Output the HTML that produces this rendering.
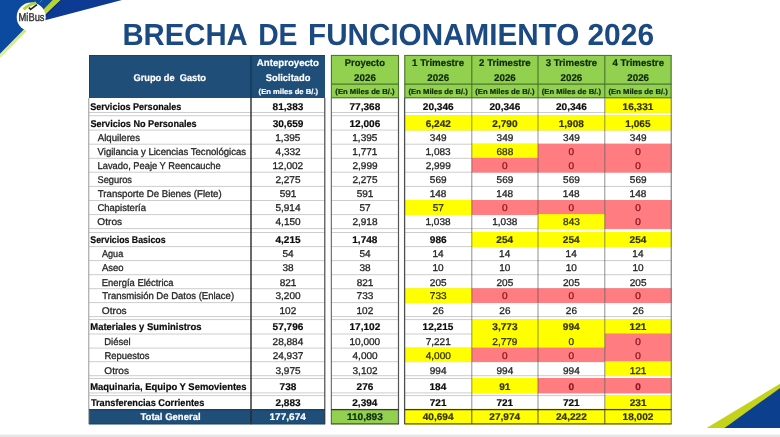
<!DOCTYPE html>
<html><head><meta charset="utf-8"><title>Brecha de Funcionamiento 2026</title>
<style>
html,body{margin:0;padding:0;}
body{width:780px;height:437px;position:relative;overflow:hidden;background:#fff;filter:blur(.45px);font-family:"Liberation Sans",sans-serif;text-rendering:geometricPrecision;}
div{position:absolute;box-sizing:border-box;}
.t{white-space:nowrap;color:#262626;-webkit-text-stroke:0.3px currentColor;font-size:9.8px;line-height:1;transform-origin:0 50%;}
.b{font-weight:bold;color:#0c0c0c;-webkit-text-stroke:0.2px currentColor;}
.ty{color:#33330a;}
.tr{color:#8a1820;}
.w{color:#fff;}
.tt{color:#1b4a82;-webkit-text-stroke:0;}
.g{color:#10290a;}
svg{position:absolute;left:0;top:0;}
</style></head><body>

<svg width="780" height="437" viewBox="0 0 780 437">
<defs><linearGradient id="gs" x1="57" y1="0" x2="0" y2="57" gradientUnits="userSpaceOnUse"><stop offset="0" stop-color="#b7d42f"/><stop offset=".3" stop-color="#bdd83a"/><stop offset=".52" stop-color="#d2e576"/><stop offset="1" stop-color="#e2efa0"/></linearGradient></defs>
<polygon points="60,0 122,0 37.5,22.2" fill="#0d3b94"/>
<polygon points="59.8,0 62,0 40,22.5 38,22.5" fill="#0a2a5e" opacity=".55"/>
<polygon points="0,0 53.5,0 0,54.5" fill="#0b4a9f"/>
<polygon points="52.8,0 60.6,0 26.5,31 1.5,57 0,57 0,53.8" fill="url(#gs)"/>
<circle cx="31.2" cy="16.9" r="14.5" fill="#fff"/>
<path d="M23.6,9.3 Q28.5,4.6 36.2,2.9" stroke="#b4d334" stroke-width="3" fill="none"/>
<path d="M29,7.6 L30.6,9.4 L37,4.6" stroke="#1d2833" stroke-width="1.7" fill="none"/>
<path d="M39.8,2.6 Q40.6,0.8 42.4,0" stroke="#3fa28c" stroke-width="1" fill="none" opacity=".8"/>
<polygon points="706.5,428 725,428 780,388.5 780,383.8" fill="#c4d21a"/>
<polygon points="724.5,428 780,428 780,388" fill="#0d3f8f"/>
<rect x="0" y="434.6" width="780" height="2.4" fill="#e6e6e6"/>
</svg>
<div class="t" id="logo" style="color:#333;-webkit-text-stroke:.4px #333;left:18px;top:13px;transform:translateX(0.55px) scaleX(0.8268);font-size:11.3px;">MiBus</div>
<div id="title" style="left:0;top:0;width:780px;height:0">
<div class="t b tt" style="left:122px;top:20px;transform:translateX(0.39px) scaleX(0.9581);font-size:30.6px;">BRECHA</div>
<div class="t b tt" style="left:258px;top:20px;transform:translateX(0.16px) scaleX(0.9257);font-size:30.6px;">DE</div>
<div class="t b tt" style="left:308px;top:20px;transform:translateX(0.07px) scaleX(0.9688);font-size:30.6px;">FUNCIONAMIENTO</div>
<div class="t b tt" style="left:587px;top:20px;transform:translateX(0.45px) scaleX(0.9781);font-size:30.6px;">2026</div>
</div>
<svg width="780" height="437" viewBox="0 0 780 437"><rect x="89" y="55" width="236" height="43" fill="#1f4e79"/><rect x="331.1" y="55" width="67.8" height="43" fill="#92d050"/><rect x="404.6" y="55" width="266.9" height="43" fill="#92d050"/><rect x="89" y="112" width="236" height="1" fill="#cdcdcd"/><rect x="331.1" y="112" width="67.8" height="1" fill="#cdcdcd"/><rect x="404.6" y="112" width="266.9" height="1" fill="#cdcdcd"/><rect x="89" y="115.2" width="236" height="1" fill="#cdcdcd"/><rect x="331.1" y="115.2" width="67.8" height="1" fill="#cdcdcd"/><rect x="404.6" y="115.2" width="266.9" height="1" fill="#cdcdcd"/><rect x="89" y="129.6" width="236" height="1" fill="#cdcdcd"/><rect x="331.1" y="129.6" width="67.8" height="1" fill="#cdcdcd"/><rect x="404.6" y="129.6" width="266.9" height="1" fill="#cdcdcd"/><rect x="89" y="143.7" width="236" height="1" fill="#cdcdcd"/><rect x="331.1" y="143.7" width="67.8" height="1" fill="#cdcdcd"/><rect x="404.6" y="143.7" width="266.9" height="1" fill="#cdcdcd"/><rect x="89" y="157.8" width="236" height="1" fill="#cdcdcd"/><rect x="331.1" y="157.8" width="67.8" height="1" fill="#cdcdcd"/><rect x="404.6" y="157.8" width="266.9" height="1" fill="#cdcdcd"/><rect x="89" y="171.7" width="236" height="1" fill="#cdcdcd"/><rect x="331.1" y="171.7" width="67.8" height="1" fill="#cdcdcd"/><rect x="404.6" y="171.7" width="266.9" height="1" fill="#cdcdcd"/><rect x="89" y="185.9" width="236" height="1" fill="#cdcdcd"/><rect x="331.1" y="185.9" width="67.8" height="1" fill="#cdcdcd"/><rect x="404.6" y="185.9" width="266.9" height="1" fill="#cdcdcd"/><rect x="89" y="200" width="236" height="1" fill="#cdcdcd"/><rect x="331.1" y="200" width="67.8" height="1" fill="#cdcdcd"/><rect x="404.6" y="200" width="266.9" height="1" fill="#cdcdcd"/><rect x="89" y="214.1" width="236" height="1" fill="#cdcdcd"/><rect x="331.1" y="214.1" width="67.8" height="1" fill="#cdcdcd"/><rect x="404.6" y="214.1" width="266.9" height="1" fill="#cdcdcd"/><rect x="89" y="228.1" width="236" height="1" fill="#cdcdcd"/><rect x="331.1" y="228.1" width="67.8" height="1" fill="#cdcdcd"/><rect x="404.6" y="228.1" width="266.9" height="1" fill="#cdcdcd"/><rect x="89" y="232" width="236" height="1" fill="#cdcdcd"/><rect x="331.1" y="232" width="67.8" height="1" fill="#cdcdcd"/><rect x="404.6" y="232" width="266.9" height="1" fill="#cdcdcd"/><rect x="89" y="246.1" width="236" height="1" fill="#cdcdcd"/><rect x="331.1" y="246.1" width="67.8" height="1" fill="#cdcdcd"/><rect x="404.6" y="246.1" width="266.9" height="1" fill="#cdcdcd"/><rect x="89" y="260.1" width="236" height="1" fill="#cdcdcd"/><rect x="331.1" y="260.1" width="67.8" height="1" fill="#cdcdcd"/><rect x="404.6" y="260.1" width="266.9" height="1" fill="#cdcdcd"/><rect x="89" y="274.2" width="236" height="1" fill="#cdcdcd"/><rect x="331.1" y="274.2" width="67.8" height="1" fill="#cdcdcd"/><rect x="404.6" y="274.2" width="266.9" height="1" fill="#cdcdcd"/><rect x="89" y="288.2" width="236" height="1" fill="#cdcdcd"/><rect x="331.1" y="288.2" width="67.8" height="1" fill="#cdcdcd"/><rect x="404.6" y="288.2" width="266.9" height="1" fill="#cdcdcd"/><rect x="89" y="302.1" width="236" height="1" fill="#cdcdcd"/><rect x="331.1" y="302.1" width="67.8" height="1" fill="#cdcdcd"/><rect x="404.6" y="302.1" width="266.9" height="1" fill="#cdcdcd"/><rect x="89" y="316.1" width="236" height="1" fill="#cdcdcd"/><rect x="331.1" y="316.1" width="67.8" height="1" fill="#cdcdcd"/><rect x="404.6" y="316.1" width="266.9" height="1" fill="#cdcdcd"/><rect x="89" y="319.1" width="236" height="1" fill="#cdcdcd"/><rect x="331.1" y="319.1" width="67.8" height="1" fill="#cdcdcd"/><rect x="404.6" y="319.1" width="266.9" height="1" fill="#cdcdcd"/><rect x="89" y="333.5" width="236" height="1" fill="#cdcdcd"/><rect x="331.1" y="333.5" width="67.8" height="1" fill="#cdcdcd"/><rect x="404.6" y="333.5" width="266.9" height="1" fill="#cdcdcd"/><rect x="89" y="347.6" width="236" height="1" fill="#cdcdcd"/><rect x="331.1" y="347.6" width="67.8" height="1" fill="#cdcdcd"/><rect x="404.6" y="347.6" width="266.9" height="1" fill="#cdcdcd"/><rect x="89" y="361.2" width="236" height="1" fill="#cdcdcd"/><rect x="331.1" y="361.2" width="67.8" height="1" fill="#cdcdcd"/><rect x="404.6" y="361.2" width="266.9" height="1" fill="#cdcdcd"/><rect x="89" y="375.2" width="236" height="1" fill="#cdcdcd"/><rect x="331.1" y="375.2" width="67.8" height="1" fill="#cdcdcd"/><rect x="404.6" y="375.2" width="266.9" height="1" fill="#cdcdcd"/><rect x="89" y="378" width="236" height="1" fill="#cdcdcd"/><rect x="331.1" y="378" width="67.8" height="1" fill="#cdcdcd"/><rect x="404.6" y="378" width="266.9" height="1" fill="#cdcdcd"/><rect x="89" y="392.4" width="236" height="1" fill="#cdcdcd"/><rect x="331.1" y="392.4" width="67.8" height="1" fill="#cdcdcd"/><rect x="404.6" y="392.4" width="266.9" height="1" fill="#cdcdcd"/><rect x="89" y="395.1" width="236" height="1" fill="#cdcdcd"/><rect x="331.1" y="395.1" width="67.8" height="1" fill="#cdcdcd"/><rect x="404.6" y="395.1" width="266.9" height="1" fill="#cdcdcd"/><rect x="604.8" y="97.5" width="66.7" height="15.35" fill="#ffff00"/><rect x="404.6" y="115.2" width="67.2" height="15.25" fill="#ffff00"/><rect x="471.8" y="115.2" width="66.2" height="15.25" fill="#ffff00"/><rect x="538" y="115.2" width="66.8" height="15.25" fill="#ffff00"/><rect x="604.8" y="115.2" width="66.7" height="15.25" fill="#ffff00"/><rect x="471.8" y="143.7" width="66.2" height="14.95" fill="#ffff00"/><rect x="538" y="143.7" width="66.8" height="14.95" fill="#ff7c80"/><rect x="604.8" y="143.7" width="66.7" height="14.95" fill="#ff7c80"/><rect x="471.8" y="157.8" width="66.2" height="14.75" fill="#ff7c80"/><rect x="538" y="157.8" width="66.8" height="14.75" fill="#ff7c80"/><rect x="604.8" y="157.8" width="66.7" height="14.75" fill="#ff7c80"/><rect x="404.6" y="200" width="67.2" height="14.95" fill="#ffff00"/><rect x="471.8" y="200" width="66.2" height="14.95" fill="#ff7c80"/><rect x="538" y="200" width="66.8" height="14.95" fill="#ff7c80"/><rect x="604.8" y="200" width="66.7" height="14.95" fill="#ff7c80"/><rect x="538" y="214.1" width="66.8" height="14.85" fill="#ffff00"/><rect x="604.8" y="214.1" width="66.7" height="14.85" fill="#ff7c80"/><rect x="471.8" y="232" width="66.2" height="14.95" fill="#ffff00"/><rect x="538" y="232" width="66.8" height="14.95" fill="#ffff00"/><rect x="604.8" y="232" width="66.7" height="14.95" fill="#ffff00"/><rect x="404.6" y="288.2" width="67.2" height="14.75" fill="#ffff00"/><rect x="471.8" y="288.2" width="66.2" height="14.75" fill="#ff7c80"/><rect x="538" y="288.2" width="66.8" height="14.75" fill="#ff7c80"/><rect x="604.8" y="288.2" width="66.7" height="14.75" fill="#ff7c80"/><rect x="471.8" y="319.1" width="66.2" height="15.25" fill="#ffff00"/><rect x="538" y="319.1" width="66.8" height="15.25" fill="#ffff00"/><rect x="604.8" y="319.1" width="66.7" height="15.25" fill="#ffff00"/><rect x="471.8" y="333.5" width="66.2" height="14.95" fill="#ffff00"/><rect x="538" y="333.5" width="66.8" height="14.95" fill="#ffff00"/><rect x="604.8" y="333.5" width="66.7" height="14.95" fill="#ff7c80"/><rect x="404.6" y="347.6" width="67.2" height="14.45" fill="#ffff00"/><rect x="471.8" y="347.6" width="66.2" height="14.45" fill="#ff7c80"/><rect x="538" y="347.6" width="66.8" height="14.45" fill="#ff7c80"/><rect x="604.8" y="347.6" width="66.7" height="14.45" fill="#ff7c80"/><rect x="604.8" y="361.2" width="66.7" height="14.85" fill="#ffff00"/><rect x="471.8" y="378" width="66.2" height="15.25" fill="#ffff00"/><rect x="538" y="378" width="66.8" height="15.25" fill="#ff7c80"/><rect x="604.8" y="378" width="66.7" height="15.25" fill="#ff7c80"/><rect x="604.8" y="395.1" width="66.7" height="14.65" fill="#ffff00"/><rect x="89" y="409.4" width="236" height="14.8" fill="#1f4e79"/><rect x="331.1" y="409.4" width="67.8" height="14.8" fill="#92d050"/><rect x="404.6" y="408.9" width="67.2" height="15.65" fill="#ffff00"/><rect x="471.8" y="408.9" width="66.2" height="15.65" fill="#ffff00"/><rect x="538" y="408.9" width="66.8" height="15.65" fill="#ffff00"/><rect x="604.8" y="408.9" width="66.7" height="15.65" fill="#ffff00"/><rect x="88.35" y="98" width="0.9" height="326.2" fill="#8c8c8c"/><rect x="250.3" y="98" width="1.4" height="326.2" fill="#2a2a2a"/><rect x="324.25" y="98" width="1.1" height="326.2" fill="#3a3a3a"/><rect x="330.8" y="98" width="1" height="326.2" fill="#555"/><rect x="397.9" y="98" width="1.2" height="326.2" fill="#555"/><rect x="403.95" y="98" width="1.3" height="326.2" fill="#505050"/><rect x="471.3" y="98" width="1" height="311.4" fill="rgba(70,70,70,.6)"/><rect x="471.3" y="409.4" width="1" height="14.8" fill="rgba(50,50,20,.8)"/><rect x="537.5" y="98" width="1" height="311.4" fill="rgba(70,70,70,.6)"/><rect x="537.5" y="409.4" width="1" height="14.8" fill="rgba(50,50,20,.8)"/><rect x="604.3" y="98" width="1" height="311.4" fill="rgba(70,70,70,.6)"/><rect x="604.3" y="409.4" width="1" height="14.8" fill="rgba(50,50,20,.8)"/><rect x="670.7" y="98" width="1" height="326.2" fill="#6a6a6a"/><rect x="89" y="55" width="236" height="1" fill="#1a4268"/><rect x="89" y="55" width="1" height="43" fill="#1a4268"/><rect x="250.3" y="55" width="1.4" height="43" fill="#15375a"/><rect x="330.85" y="55" width="1.1" height="43" fill="#4a7428"/><rect x="397.95" y="55" width="1.1" height="43" fill="#4a7428"/><rect x="404.25" y="55" width="1.1" height="43" fill="#4a7428"/><rect x="471.25" y="55" width="1.1" height="43" fill="#4a7428"/><rect x="537.45" y="55" width="1.1" height="43" fill="#4a7428"/><rect x="604.25" y="55" width="1.1" height="43" fill="#4a7428"/><rect x="670.55" y="55" width="1.1" height="43" fill="#4a7428"/><rect x="331.1" y="54.9" width="67.8" height="1" fill="#4a7428"/><rect x="331.1" y="83.5" width="67.8" height="1.2" fill="#4a7428"/><rect x="331.1" y="97.25" width="67.8" height="1.1" fill="#4a7428"/><rect x="404.6" y="54.9" width="266.9" height="1" fill="#4a7428"/><rect x="404.6" y="83.5" width="266.9" height="1.2" fill="#4a7428"/><rect x="404.6" y="97.25" width="266.9" height="1.1" fill="#4a7428"/><rect x="89" y="409.1" width="236" height="1.2" fill="#15375a"/><rect x="331.1" y="408.95" width="67.8" height="1.3" fill="#3a3a20"/><rect x="331.1" y="423.3" width="67.8" height="1.2" fill="#4a4a30"/><rect x="404.6" y="408.95" width="266.9" height="1.3" fill="#3a3a20"/><rect x="404.6" y="423.3" width="266.9" height="1.2" fill="#4a4a30"/><rect x="89" y="423.4" width="236" height="1" fill="#1a4268"/></svg>
<div class="t b w" style="left:133px;top:74px;transform:translateX(0.43px) scaleX(0.9447);">Grupo de&nbsp; Gasto</div>
<div class="t b w" style="left:256px;top:59px;transform:translateX(0.81px) scaleX(0.9844);">Anteproyecto</div>
<div class="t b w" style="left:265px;top:74px;transform:translateX(0.72px) scaleX(0.9532);">Solicitado</div>
<div class="t b w" style="left:258px;top:88px;transform:translateX(0.62px) scaleX(1.0470);font-size:7.3px;">(En miles de B/.)</div>
<div class="t b g" style="left:344px;top:59px;transform:translateX(0.84px) scaleX(0.9556);">Proyecto</div>
<div class="t b g" style="left:354px;top:74px;transform:translateX(0.11px) scaleX(0.9991);">2026</div>
<div class="t b g" style="left:335px;top:88px;transform:translateX(0.37px) scaleX(1.0510);font-size:7.3px;">(En Miles de B/.)</div>
<div class="t b g" style="left:412px;top:59px;transform:translateX(0.07px) scaleX(0.9941);">1 Trimestre</div>
<div class="t b g" style="left:427px;top:74px;transform:translateX(0.31px) scaleX(0.9991);">2026</div>
<div class="t b g" style="left:408px;top:88px;transform:translateX(0.57px) scaleX(1.0510);font-size:7.3px;">(En Miles de B/.)</div>
<div class="t b g" style="left:479px;top:59px;transform:translateX(0.06px) scaleX(0.9884);">2 Trimestre</div>
<div class="t b g" style="left:494px;top:74px;transform:translateX(0.01px) scaleX(0.9991);">2026</div>
<div class="t b g" style="left:475px;top:88px;transform:translateX(0.27px) scaleX(1.0510);font-size:7.3px;">(En Miles de B/.)</div>
<div class="t b g" style="left:545px;top:59px;transform:translateX(0.66px) scaleX(0.9866);">3 Trimestre</div>
<div class="t b g" style="left:560px;top:74px;transform:translateX(0.51px) scaleX(0.9991);">2026</div>
<div class="t b g" style="left:541px;top:88px;transform:translateX(0.77px) scaleX(1.0510);font-size:7.3px;">(En Miles de B/.)</div>
<div class="t b g" style="left:612px;top:59px;transform:translateX(0.51px) scaleX(0.9847);">4 Trimestre</div>
<div class="t b g" style="left:627px;top:74px;transform:translateX(0.26px) scaleX(0.9991);">2026</div>
<div class="t b g" style="left:608px;top:88px;transform:translateX(0.52px) scaleX(1.0510);font-size:7.3px;">(En Miles de B/.)</div>
<div class="t b" style="left:90px;top:103px;transform:translateX(0.23px) scaleX(0.9244);">Servicios Personales</div>
<div class="t b" style="left:272px;top:103px;transform:translateX(0.61px) scaleX(1.0280);">81,383</div>
<div class="t b" style="left:349px;top:103px;transform:translateX(0.51px) scaleX(1.0280);">77,368</div>
<div class="t b" style="left:422px;top:103px;transform:translateX(0.79px) scaleX(1.0280);">20,346</div>
<div class="t b" style="left:489px;top:103px;transform:translateX(0.49px) scaleX(1.0280);">20,346</div>
<div class="t b" style="left:555px;top:103px;transform:translateX(0.99px) scaleX(1.0280);">20,346</div>
<div class="t b ty" style="left:622px;top:103px;transform:translateX(0.53px) scaleX(1.0280);">16,331</div>
<div class="t b" style="left:90px;top:120px;transform:translateX(0.43px) scaleX(0.9289);">Servicios No Personales</div>
<div class="t b" style="left:272px;top:120px;transform:translateX(0.64px) scaleX(1.0280);">30,659</div>
<div class="t b" style="left:349px;top:120px;transform:translateX(0.44px) scaleX(1.0280);">12,006</div>
<div class="t b ty" style="left:425px;top:120px;transform:translateX(0.63px) scaleX(1.0280);">6,242</div>
<div class="t b ty" style="left:492px;top:120px;transform:translateX(0.33px) scaleX(1.0280);">2,790</div>
<div class="t b ty" style="left:558px;top:120px;transform:translateX(0.63px) scaleX(1.0280);">1,908</div>
<div class="t b ty" style="left:625px;top:120px;transform:translateX(0.36px) scaleX(1.0280);">1,065</div>
<div class="t " style="left:97px;top:134px;transform:translateX(0.75px) scaleX(0.9829);">Alquileres</div>
<div class="t " style="left:275px;top:134px;transform:translateX(0.28px) scaleX(1.0240);">1,395</div>
<div class="t " style="left:352px;top:134px;transform:translateX(0.28px) scaleX(1.0240);">1,395</div>
<div class="t " style="left:429px;top:134px;transform:translateX(0.87px) scaleX(1.0240);">349</div>
<div class="t " style="left:496px;top:134px;transform:translateX(0.57px) scaleX(1.0240);">349</div>
<div class="t " style="left:563px;top:134px;transform:translateX(0.07px) scaleX(1.0240);">349</div>
<div class="t " style="left:629px;top:134px;transform:translateX(0.82px) scaleX(1.0240);">349</div>
<div class="t " style="left:97px;top:148px;transform:translateX(0.55px) scaleX(0.9763);">Vigilancia y Licencias Tecnológicas</div>
<div class="t " style="left:275px;top:148px;transform:translateX(0.58px) scaleX(1.0240);">4,332</div>
<div class="t " style="left:352px;top:148px;transform:translateX(0.33px) scaleX(1.0240);">1,771</div>
<div class="t " style="left:425px;top:148px;transform:translateX(0.51px) scaleX(1.0240);">1,083</div>
<div class="t ty" style="left:496px;top:148px;transform:translateX(0.50px) scaleX(1.0240);">688</div>
<div class="t tr" style="left:568px;top:148px;transform:translateX(0.62px) scaleX(1.0240);">0</div>
<div class="t tr" style="left:635px;top:148px;transform:translateX(0.37px) scaleX(1.0240);">0</div>
<div class="t " style="left:97px;top:162px;transform:translateX(0.55px) scaleX(0.9517);">Lavado, Peaje Y Reencauche</div>
<div class="t " style="left:272px;top:162px;transform:translateX(0.52px) scaleX(1.0240);">12,002</div>
<div class="t " style="left:352px;top:162px;transform:translateX(0.43px) scaleX(1.0240);">2,999</div>
<div class="t " style="left:425px;top:162px;transform:translateX(0.63px) scaleX(1.0240);">2,999</div>
<div class="t tr" style="left:502px;top:162px;transform:translateX(0.12px) scaleX(1.0240);">0</div>
<div class="t tr" style="left:568px;top:162px;transform:translateX(0.62px) scaleX(1.0240);">0</div>
<div class="t tr" style="left:635px;top:162px;transform:translateX(0.37px) scaleX(1.0240);">0</div>
<div class="t " style="left:97px;top:176px;transform:translateX(0.48px) scaleX(0.9462);">Seguros</div>
<div class="t " style="left:275px;top:176px;transform:translateX(0.41px) scaleX(1.0240);">2,275</div>
<div class="t " style="left:352px;top:176px;transform:translateX(0.41px) scaleX(1.0240);">2,275</div>
<div class="t " style="left:429px;top:176px;transform:translateX(0.87px) scaleX(1.0240);">569</div>
<div class="t " style="left:496px;top:176px;transform:translateX(0.57px) scaleX(1.0240);">569</div>
<div class="t " style="left:563px;top:176px;transform:translateX(0.07px) scaleX(1.0240);">569</div>
<div class="t " style="left:629px;top:176px;transform:translateX(0.82px) scaleX(1.0240);">569</div>
<div class="t " style="left:97px;top:190px;transform:translateX(0.81px) scaleX(0.9833);">Transporte De Bienes (Flete)</div>
<div class="t " style="left:279px;top:190px;transform:translateX(0.70px) scaleX(1.0240);">591</div>
<div class="t " style="left:356px;top:190px;transform:translateX(0.70px) scaleX(1.0240);">591</div>
<div class="t " style="left:429px;top:190px;transform:translateX(0.67px) scaleX(1.0240);">148</div>
<div class="t " style="left:496px;top:190px;transform:translateX(0.37px) scaleX(1.0240);">148</div>
<div class="t " style="left:562px;top:190px;transform:translateX(0.87px) scaleX(1.0240);">148</div>
<div class="t " style="left:629px;top:190px;transform:translateX(0.62px) scaleX(1.0240);">148</div>
<div class="t " style="left:97px;top:204px;transform:translateX(0.43px) scaleX(0.9690);">Chapistería</div>
<div class="t " style="left:275px;top:204px;transform:translateX(0.41px) scaleX(1.0240);">5,914</div>
<div class="t " style="left:359px;top:204px;transform:translateX(0.48px) scaleX(1.0240);">57</div>
<div class="t ty" style="left:432px;top:204px;transform:translateX(0.68px) scaleX(1.0240);">57</div>
<div class="t tr" style="left:502px;top:204px;transform:translateX(0.12px) scaleX(1.0240);">0</div>
<div class="t tr" style="left:568px;top:204px;transform:translateX(0.62px) scaleX(1.0240);">0</div>
<div class="t tr" style="left:635px;top:204px;transform:translateX(0.37px) scaleX(1.0240);">0</div>
<div class="t " style="left:97px;top:218px;transform:translateX(0.34px) scaleX(1.0355);">Otros</div>
<div class="t " style="left:275px;top:218px;transform:translateX(0.53px) scaleX(1.0240);">4,150</div>
<div class="t " style="left:352px;top:218px;transform:translateX(0.41px) scaleX(1.0240);">2,918</div>
<div class="t " style="left:425px;top:218px;transform:translateX(0.48px) scaleX(1.0240);">1,038</div>
<div class="t " style="left:492px;top:218px;transform:translateX(0.18px) scaleX(1.0240);">1,038</div>
<div class="t ty" style="left:563px;top:218px;transform:translateX(0.05px) scaleX(1.0240);">843</div>
<div class="t tr" style="left:635px;top:218px;transform:translateX(0.37px) scaleX(1.0240);">0</div>
<div class="t b" style="left:90px;top:236px;transform:translateX(0.34px) scaleX(0.8966);">Servicios Basicos</div>
<div class="t b" style="left:275px;top:236px;transform:translateX(0.46px) scaleX(1.0280);">4,215</div>
<div class="t b" style="left:352px;top:236px;transform:translateX(0.23px) scaleX(1.0280);">1,748</div>
<div class="t b" style="left:429px;top:236px;transform:translateX(0.81px) scaleX(1.0280);">986</div>
<div class="t b ty" style="left:496px;top:236px;transform:translateX(0.36px) scaleX(1.0280);">254</div>
<div class="t b ty" style="left:562px;top:236px;transform:translateX(0.86px) scaleX(1.0280);">254</div>
<div class="t b ty" style="left:629px;top:236px;transform:translateX(0.61px) scaleX(1.0280);">254</div>
<div class="t " style="left:101px;top:250px;transform:translateX(0.95px) scaleX(0.9284);">Agua</div>
<div class="t " style="left:282px;top:250px;transform:translateX(0.38px) scaleX(1.0240);">54</div>
<div class="t " style="left:359px;top:250px;transform:translateX(0.38px) scaleX(1.0240);">54</div>
<div class="t " style="left:432px;top:250px;transform:translateX(0.40px) scaleX(1.0240);">14</div>
<div class="t " style="left:499px;top:250px;transform:translateX(0.10px) scaleX(1.0240);">14</div>
<div class="t " style="left:565px;top:250px;transform:translateX(0.60px) scaleX(1.0240);">14</div>
<div class="t " style="left:632px;top:250px;transform:translateX(0.35px) scaleX(1.0240);">14</div>
<div class="t " style="left:101px;top:264px;transform:translateX(0.95px) scaleX(0.9679);">Aseo</div>
<div class="t " style="left:282px;top:264px;transform:translateX(0.43px) scaleX(1.0240);">38</div>
<div class="t " style="left:359px;top:264px;transform:translateX(0.43px) scaleX(1.0240);">38</div>
<div class="t " style="left:432px;top:264px;transform:translateX(0.45px) scaleX(1.0240);">10</div>
<div class="t " style="left:499px;top:264px;transform:translateX(0.15px) scaleX(1.0240);">10</div>
<div class="t " style="left:565px;top:264px;transform:translateX(0.65px) scaleX(1.0240);">10</div>
<div class="t " style="left:632px;top:264px;transform:translateX(0.40px) scaleX(1.0240);">10</div>
<div class="t " style="left:101px;top:279px;transform:translateX(0.85px) scaleX(0.9601);">Energía Eléctrica</div>
<div class="t " style="left:279px;top:279px;transform:translateX(0.67px) scaleX(1.0240);">821</div>
<div class="t " style="left:356px;top:279px;transform:translateX(0.67px) scaleX(1.0240);">821</div>
<div class="t " style="left:429px;top:279px;transform:translateX(0.80px) scaleX(1.0240);">205</div>
<div class="t " style="left:496px;top:279px;transform:translateX(0.50px) scaleX(1.0240);">205</div>
<div class="t " style="left:562px;top:279px;transform:translateX(1.00px) scaleX(1.0240);">205</div>
<div class="t " style="left:629px;top:279px;transform:translateX(0.75px) scaleX(1.0240);">205</div>
<div class="t " style="left:102px;top:292px;transform:translateX(0.31px) scaleX(0.9704);">Transmisión De Datos (Enlace)</div>
<div class="t " style="left:275px;top:292px;transform:translateX(0.46px) scaleX(1.0240);">3,200</div>
<div class="t " style="left:356px;top:292px;transform:translateX(0.62px) scaleX(1.0240);">733</div>
<div class="t ty" style="left:429px;top:292px;transform:translateX(0.82px) scaleX(1.0240);">733</div>
<div class="t tr" style="left:502px;top:292px;transform:translateX(0.12px) scaleX(1.0240);">0</div>
<div class="t tr" style="left:568px;top:292px;transform:translateX(0.62px) scaleX(1.0240);">0</div>
<div class="t tr" style="left:635px;top:292px;transform:translateX(0.37px) scaleX(1.0240);">0</div>
<div class="t " style="left:101px;top:307px;transform:translateX(0.84px) scaleX(1.0355);">Otros</div>
<div class="t " style="left:279px;top:307px;transform:translateX(0.52px) scaleX(1.0240);">102</div>
<div class="t " style="left:356px;top:307px;transform:translateX(0.52px) scaleX(1.0240);">102</div>
<div class="t " style="left:432px;top:307px;transform:translateX(0.61px) scaleX(1.0240);">26</div>
<div class="t " style="left:499px;top:307px;transform:translateX(0.31px) scaleX(1.0240);">26</div>
<div class="t " style="left:565px;top:307px;transform:translateX(0.81px) scaleX(1.0240);">26</div>
<div class="t " style="left:632px;top:307px;transform:translateX(0.56px) scaleX(1.0240);">26</div>
<div class="t b" style="left:90px;top:323px;transform:translateX(0.29px) scaleX(0.9640);">Materiales y Suministros</div>
<div class="t b" style="left:272px;top:323px;transform:translateX(0.61px) scaleX(1.0280);">57,796</div>
<div class="t b" style="left:349px;top:323px;transform:translateX(0.46px) scaleX(1.0280);">17,102</div>
<div class="t b" style="left:422px;top:323px;transform:translateX(0.58px) scaleX(1.0280);">12,215</div>
<div class="t b ty" style="left:492px;top:323px;transform:translateX(0.36px) scaleX(1.0280);">3,773</div>
<div class="t b ty" style="left:562px;top:323px;transform:translateX(0.86px) scaleX(1.0280);">994</div>
<div class="t b ty" style="left:629px;top:323px;transform:translateX(0.56px) scaleX(1.0280);">121</div>
<div class="t " style="left:104px;top:338px;transform:translateX(0.24px) scaleX(0.9661);">Diésel</div>
<div class="t " style="left:272px;top:338px;transform:translateX(0.55px) scaleX(1.0240);">28,884</div>
<div class="t " style="left:349px;top:338px;transform:translateX(0.47px) scaleX(1.0240);">10,000</div>
<div class="t " style="left:425px;top:338px;transform:translateX(0.66px) scaleX(1.0240);">7,221</div>
<div class="t ty" style="left:492px;top:338px;transform:translateX(0.33px) scaleX(1.0240);">2,779</div>
<div class="t ty" style="left:568px;top:338px;transform:translateX(0.62px) scaleX(1.0240);">0</div>
<div class="t tr" style="left:635px;top:338px;transform:translateX(0.37px) scaleX(1.0240);">0</div>
<div class="t " style="left:104px;top:352px;transform:translateX(0.45px) scaleX(0.9603);">Repuestos</div>
<div class="t " style="left:272px;top:352px;transform:translateX(0.65px) scaleX(1.0240);">24,937</div>
<div class="t " style="left:352px;top:352px;transform:translateX(0.53px) scaleX(1.0240);">4,000</div>
<div class="t ty" style="left:425px;top:352px;transform:translateX(0.73px) scaleX(1.0240);">4,000</div>
<div class="t tr" style="left:502px;top:352px;transform:translateX(0.12px) scaleX(1.0240);">0</div>
<div class="t tr" style="left:568px;top:352px;transform:translateX(0.62px) scaleX(1.0240);">0</div>
<div class="t tr" style="left:635px;top:352px;transform:translateX(0.37px) scaleX(1.0240);">0</div>
<div class="t " style="left:104px;top:367px;transform:translateX(0.35px) scaleX(1.0269);">Otros</div>
<div class="t " style="left:275px;top:367px;transform:translateX(0.46px) scaleX(1.0240);">3,975</div>
<div class="t " style="left:352px;top:367px;transform:translateX(0.51px) scaleX(1.0240);">3,102</div>
<div class="t " style="left:429px;top:367px;transform:translateX(0.77px) scaleX(1.0240);">994</div>
<div class="t " style="left:496px;top:367px;transform:translateX(0.47px) scaleX(1.0240);">994</div>
<div class="t " style="left:562px;top:367px;transform:translateX(0.97px) scaleX(1.0240);">994</div>
<div class="t ty" style="left:629px;top:367px;transform:translateX(0.67px) scaleX(1.0240);">121</div>
<div class="t b" style="left:90px;top:383px;transform:translateX(0.19px) scaleX(0.9625);">Maquinaria, Equipo Y Semovientes</div>
<div class="t b" style="left:279px;top:383px;transform:translateX(0.54px) scaleX(1.0280);">738</div>
<div class="t b" style="left:356px;top:383px;transform:translateX(0.61px) scaleX(1.0280);">276</div>
<div class="t b" style="left:429px;top:383px;transform:translateX(0.51px) scaleX(1.0280);">184</div>
<div class="t b ty" style="left:499px;top:383px;transform:translateX(0.26px) scaleX(1.0280);">91</div>
<div class="t b tr" style="left:568px;top:383px;transform:translateX(0.60px) scaleX(1.0280);">0</div>
<div class="t b tr" style="left:635px;top:383px;transform:translateX(0.35px) scaleX(1.0280);">0</div>
<div class="t b" style="left:90px;top:399px;transform:translateX(0.91px) scaleX(0.9382);">Transferencias Corrientes</div>
<div class="t b" style="left:275px;top:399px;transform:translateX(0.41px) scaleX(1.0280);">2,883</div>
<div class="t b" style="left:352px;top:399px;transform:translateX(0.26px) scaleX(1.0280);">2,394</div>
<div class="t b" style="left:429px;top:399px;transform:translateX(0.71px) scaleX(1.0280);">721</div>
<div class="t b" style="left:496px;top:399px;transform:translateX(0.41px) scaleX(1.0280);">721</div>
<div class="t b" style="left:562px;top:399px;transform:translateX(0.91px) scaleX(1.0280);">721</div>
<div class="t b ty" style="left:629px;top:399px;transform:translateX(0.71px) scaleX(1.0280);">231</div>
<div class="t b w" style="left:140px;top:413px;transform:translateX(0.50px) scaleX(0.9705);">Total General</div>
<div class="t b w" style="left:269px;top:413px;transform:translateX(0.49px) scaleX(1.0280);">177,674</div>
<div class="t b g" style="left:346px;top:413px;transform:translateX(0.92px) scaleX(1.0280);">110,893</div>
<div class="t b ty" style="left:422px;top:413px;transform:translateX(0.74px) scaleX(1.0280);">40,694</div>
<div class="t b ty" style="left:489px;top:413px;transform:translateX(0.34px) scaleX(1.0280);">27,974</div>
<div class="t b ty" style="left:556px;top:413px;transform:translateX(0.01px) scaleX(1.0280);">24,222</div>
<div class="t b ty" style="left:622px;top:413px;transform:translateX(0.61px) scaleX(1.0280);">18,002</div>
</body></html>
